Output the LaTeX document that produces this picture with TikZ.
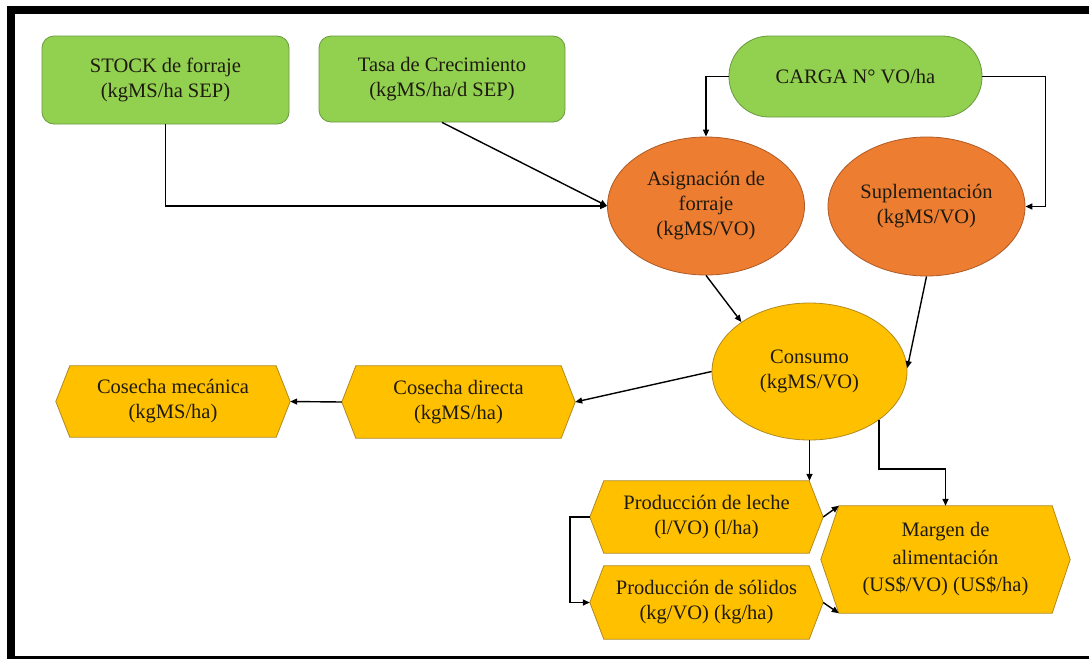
\documentclass[tikz,border=0pt]{standalone}
\usepackage{fontspec}
\setmainfont{Liberation Serif}
\usetikzlibrary{shapes.geometric,arrows.meta,calc}
\pgfdeclarelayer{bg}
\pgfsetlayers{bg,main}
\definecolor{gfill}{HTML}{92D050}
\definecolor{gdraw}{HTML}{6A9A40}
\definecolor{ofill}{HTML}{ED7D31}
\definecolor{odraw}{HTML}{AE5A24}
\definecolor{yfill}{HTML}{FFC000}
\definecolor{ydraw}{HTML}{B08A20}
\definecolor{txt}{HTML}{1E1A10}
\newcommand{\hexdraw}[2]{\draw[hexline] (#1.west) -- ([xshift=#2]#1.north west) -- ([xshift=-#2]#1.north east) -- (#1.east) -- ([xshift=-#2]#1.south east) -- ([xshift=#2]#1.south west) -- cycle;}
\begin{document}
\begin{tikzpicture}[x=1pt,y=-1pt,
  every node/.style={font=\fontsize{20.5}{25}\selectfont, align=center, text=txt, inner sep=0pt},
  gbox/.style={draw=gdraw, fill=gfill, line width=0.8pt, rounded corners=12pt},
  oell/.style={ellipse, draw=odraw, fill=ofill, line width=0.8pt},
  yell/.style={ellipse, draw=ydraw, fill=yfill, line width=0.8pt},
  hexbox/.style={rectangle},
  hexline/.style={draw=ydraw, fill=yfill, line width=0.8pt},
  conn/.style={-{Triangle[length=7pt,width=6pt]}, line width=1.4pt, black}]
\useasboundingbox (0,0) rectangle (1089,659);
\begin{pgfonlayer}{bg}
\fill[white] (0,0) rectangle (1089,659);
\end{pgfonlayer}
% frame
\fill[black] (7,6) rectangle (1089,14);
\fill[black] (7,6) rectangle (15,659);
\fill[black] (7,656) rectangle (1089,659);

% top row
\node[gbox, minimum width=247, minimum height=88] (stock) at (165.5,80) {STOCK de forraje\\(kgMS/ha SEP)};
\node[gbox, minimum width=246, minimum height=86] (tasa) at (442,79) {Tasa de Crecimiento\\(kgMS/ha/d SEP)};
\node[gbox, rounded corners=40pt, minimum width=253, minimum height=81] (carga) at (855.5,76.5) {CARGA N° VO/ha};

% ellipses
\node[oell, minimum width=197, minimum height=138] (asig) at (706,206) {Asignación de\\forraje\\(kgMS/VO)};
\node[oell, minimum width=197, minimum height=139] (supl) at (926.5,206.5) {Suplementación\\(kgMS/VO)};
\node[yell, minimum width=195, minimum height=137] (cons) at (809.5,371.5) {Consumo\\(kgMS/VO)};

% hexagons
\node[hexbox, minimum width=234, minimum height=71] (cmec) at (173,401.5) {Cosecha mecánica\\(kgMS/ha)};
\node[hexbox, minimum width=233, minimum height=72] (cdir) at (458.5,402) {Cosecha directa\\(kgMS/ha)};
\node[hexbox, minimum width=233, minimum height=72] (leche) at (706.5,517) {Producción de leche\\(l/VO) (l/ha)};
\node[hexbox, minimum width=233, minimum height=73] (solid) at (706.5,602.5) {Producción de sólidos\\(kg/VO) (kg/ha)};
\node[hexbox, minimum width=249, minimum height=107, font=\fontsize{20.5}{27.5}\selectfont] (marg) at (945.5,559.5) {Margen de\\alimentación\\(US\$/VO) (US\$/ha)};

\begin{pgfonlayer}{bg}
\hexdraw{cmec}{14}
\hexdraw{cdir}{14}
\hexdraw{leche}{14}
\hexdraw{solid}{14}
\hexdraw{marg}{18}
\end{pgfonlayer}

% connectors
\draw[conn] (stock.south) |- (asig.west);
\draw[conn] (tasa.south) -- (asig.west);
\draw[conn] (carga.west) -| (asig.north);
\draw[conn] (carga.east) -- ++(63,0) |- (supl.east);
\draw[conn] (asig.south) -- (cons.144);
\draw[conn] (supl.south) -- (cons.2);
\draw[conn] (cons.west) -- (cdir.east);
\draw[conn] (cdir.west) -- (cmec.east);
\draw[conn] (cons.south) -- (cons.south |- leche.north);
\draw[conn] (cons.-35.4) -- ++(0,49) -| (marg.north);
\draw[conn] (leche.west) -- ++(-20,0) |- (solid.west);
\draw[conn] (leche.east) -- ([xshift=18]marg.north west);
\draw[conn] (solid.east) -- ([xshift=18]marg.south west);
\end{tikzpicture}
\end{document}
